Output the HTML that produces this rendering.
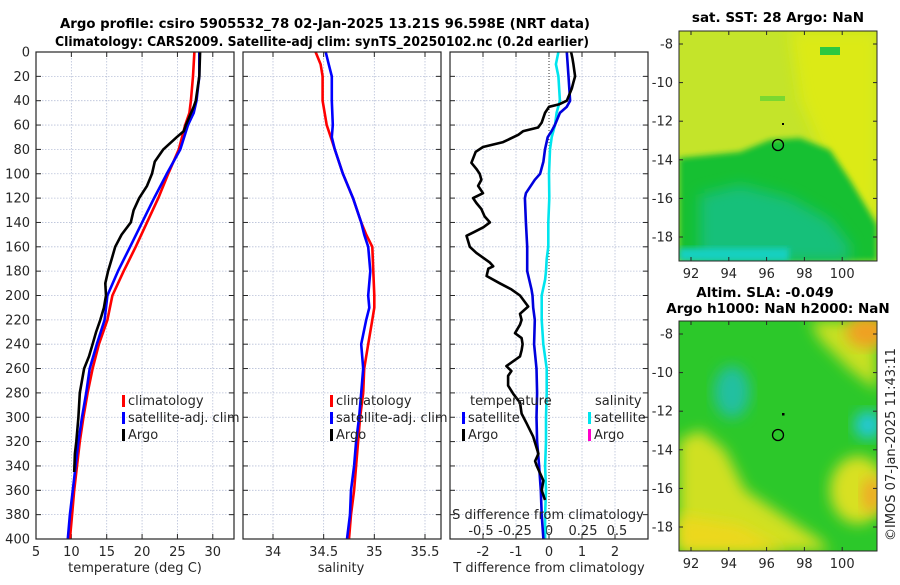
<!DOCTYPE html>
<html><head><meta charset="utf-8"><style>
body{margin:0;background:#fff;}
svg text{font-family:"DejaVu Sans","Liberation Sans",sans-serif;fill:#262626;}
.t{font-weight:bold;fill:#000;font-size:13.5px;}
.tk{font-size:13px;}
</style></head><body>
<svg id="fig" width="900" height="580" viewBox="0 0 900 580" xmlns="http://www.w3.org/2000/svg">
<defs>
<filter id="bl" x="-20%" y="-20%" width="140%" height="140%"><feGaussianBlur stdDeviation="7"/></filter>
<filter id="bl2" x="-20%" y="-20%" width="140%" height="140%"><feGaussianBlur stdDeviation="3"/></filter>
<clipPath id="c1"><rect x="679" y="31" width="198" height="230"/></clipPath>
<clipPath id="c2"><rect x="679" y="321" width="198" height="230"/></clipPath>
</defs>
<text class="t" x="60" y="28" textLength="530" lengthAdjust="spacingAndGlyphs">Argo profile: csiro 5905532_78 02-Jan-2025 13.21S 96.598E (NRT data)</text>
<text class="t" x="55" y="46" textLength="534" lengthAdjust="spacingAndGlyphs">Climatology: CARS2009. Satellite-adj clim: synTS_20250102.nc (0.2d earlier)</text>

<g id="panels"></g>

<!-- map 1 -->
<g clip-path="url(#c1)">
<rect x="679" y="31" width="198" height="230" fill="#c4e42a"/>
<path d="M790,31 L877,31 L877,230 L830,170 L800,100 Z" fill="#dcea18" filter="url(#bl)"/>
<path d="M679,158 L740,152 L770,140 L800,138 L830,150 L850,180 L877,225 L877,261 L679,261 Z" fill="#18c030" filter="url(#bl2)"/>
<path d="M700,195 L740,185 L790,198 L830,220 L850,245 L850,261 L700,261 Z" fill="#14c07a" filter="url(#bl)"/>
<rect x="679" y="248" width="110" height="13" fill="#18d0c0" filter="url(#bl2)"/>
<rect x="820" y="47" width="20" height="8" fill="#2cc840"/>
<rect x="760" y="96" width="25" height="5" fill="#7ad830"/>
</g>
<rect x="679" y="31" width="198" height="230" fill="none" stroke="#262626" stroke-width="1"/>
<circle cx="778" cy="145" r="5.5" fill="none" stroke="#000" stroke-width="1.3"/>
<rect x="782" y="123" width="2" height="2" fill="#000"/>
<text class="t" x="778" y="22" text-anchor="middle">sat. SST: 28 Argo: NaN</text>

<!-- map 2 -->
<g clip-path="url(#c2)">
<rect x="679" y="321" width="198" height="230" fill="#2cc82a"/>
<path d="M679,440 L700,430 L725,450 L745,490 L790,520 L820,540 L830,551 L679,551 Z" fill="#d0e024" filter="url(#bl)"/>
<path d="M679,515 L740,525 L790,551 L679,551 Z" fill="#ecd81c" filter="url(#bl)"/>
<path d="M810,321 L877,321 L877,390 L850,370 L820,340 Z" fill="#c8e020" filter="url(#bl)"/>
<ellipse cx="868" cy="332" rx="22" ry="16" fill="#f0a024" filter="url(#bl)"/>
<ellipse cx="858" cy="490" rx="28" ry="34" fill="#d8e020" filter="url(#bl)"/>
<ellipse cx="872" cy="495" rx="10" ry="18" fill="#f0a828" filter="url(#bl)"/>
<ellipse cx="868" cy="425" rx="14" ry="14" fill="#20c8d8" filter="url(#bl)"/>
<ellipse cx="732" cy="392" rx="18" ry="26" fill="#20c0a0" filter="url(#bl)"/>
</g>
<rect x="679" y="321" width="198" height="230" fill="none" stroke="#262626" stroke-width="1"/>
<circle cx="778" cy="435" r="5.5" fill="none" stroke="#000" stroke-width="1.3"/>
<rect x="782" y="413" width="2.5" height="2.5" fill="#000"/>
<text class="t" x="765" y="297" text-anchor="middle">Altim. SLA: -0.049</text>
<text class="t" x="778" y="313" text-anchor="middle">Argo h1000: NaN h2000: NaN</text>
<g id="mapticks"></g>
<text class="tk" transform="translate(895,541) rotate(-90)" font-size="13">©IMOS 07-Jan-2025 11:43:11</text>
</svg>
<script>
// ---- data ----
const depthT = [0,20,40,50,60,80,100,120,140,160,180,200,220,240,260,280,300,320,340,360,380,400];
const climT = [27.4,27.2,26.9,26.7,26.1,25.2,23.7,22.3,20.7,19.1,17.4,15.8,15.1,13.9,13.0,12.3,11.7,11.2,10.8,10.4,10.1,9.8];
const satT = [28.1,28.1,27.7,27.3,26.5,25.4,23.5,21.7,20.0,18.3,16.6,15.1,14.7,13.6,12.6,12.1,11.5,11.0,10.6,10.2,9.8,9.5];
const depthArgo = [0,20,40,45,60,65,70,80,90,100,110,120,130,140,150,160,170,180,190,200,210,220,230,240,250,260,280,300,320,330,345];
const argoT = [28.2,28.1,27.6,27.3,26.2,25.9,24.9,23.0,21.8,21.4,20.7,19.6,18.8,18.4,17.1,16.2,15.7,15.2,14.8,14.9,14.6,14.1,13.5,13.0,12.5,11.8,11.2,11.0,10.7,10.5,10.4];
const depthS = [0,10,20,40,60,70,80,100,120,140,150,160,180,200,210,220,240,260,280,300,320,340,360,380,400];
const climS = [34.42,34.47,34.49,34.49,34.53,34.57,34.61,34.69,34.79,34.87,34.92,34.98,34.99,35.0,35.0,34.98,34.94,34.90,34.89,34.86,34.84,34.82,34.80,34.77,34.75];
const satS = [34.52,34.55,34.58,34.58,34.59,34.58,34.61,34.69,34.79,34.87,34.90,34.94,34.96,34.94,34.95,34.92,34.87,34.89,34.87,34.85,34.82,34.80,34.77,34.76,34.73];
const depthArgoDiff = [0,5,10,20,25,30,40,43,45,50,58,62,65,68,74,78,82,91,96,100,105,110,116,120,124,129,135,140,144,148,151,160,165,173,176,178,184,190,195,200,209,215,220,224,231,235,240,245,250,258,262,266,274,281,288,297,305,316,330,336,340,346,352,360,368];
const argoTDiff = [0.67,0.71,0.74,0.79,0.74,0.69,0.54,0.3,0.0,-0.12,-0.22,-0.33,-0.78,-0.93,-1.39,-2.0,-2.22,-2.35,-2.2,-2.1,-2.05,-2.15,-2.0,-2.3,-2.2,-2.05,-1.95,-1.79,-1.99,-2.28,-2.5,-2.4,-2.2,-1.79,-1.69,-1.84,-1.89,-1.49,-1.14,-0.88,-0.63,-0.88,-0.83,-0.88,-1.03,-0.83,-0.8,-0.83,-0.88,-1.29,-1.14,-1.24,-1.24,-1.08,-0.88,-0.83,-0.68,-0.48,-0.32,-0.42,-0.37,-0.27,-0.17,-0.22,-0.12];
const depthSatDiff = [0,20,40,45,50,60,65,70,80,90,100,105,116,120,140,160,180,195,200,210,220,240,260,280,300,320,340,360,380,400];
const satTDiff = [0.54,0.59,0.64,0.54,0.33,0.18,0.08,-0.04,-0.12,-0.17,-0.27,-0.43,-0.7,-0.73,-0.7,-0.66,-0.66,-0.53,-0.5,-0.48,-0.43,-0.45,-0.38,-0.36,-0.38,-0.36,-0.30,-0.25,-0.22,-0.17];
const depthSDiff = [0,10,20,40,50,60,70,80,100,120,140,160,170,180,187,200,220,240,260,280,300,320,340,360,380,400];
const satSDiff = [0.069,0.051,0.069,0.08,0.056,0.044,0.02,0.007,0,0.002,-0.005,-0.005,-0.017,-0.022,-0.029,-0.054,-0.054,-0.042,-0.017,-0.017,-0.022,-0.022,-0.029,-0.022,-0.029,-0.029];
const depthTicks = [0,20,40,60,80,100,120,140,160,180,200,220,240,260,280,300,320,340,360,380,400];
const tTicks = [5,10,15,20,25,30];
const sTicks = [34,34.5,35,35.5];
const dTicks = [-2,-1,0,1,2];
const sdTicks = [-0.5,-0.25,0,0.25,0.5];
const sdTickLabels = ['-0.5','-0.25','0','0.25','0.5'];
const lonTicks = [92,94,96,98,100];
const latTicks = [-8,-10,-12,-14,-16,-18];

// ---- axes ----
const Y0=52, Y1=539;
const yD = d => Y0 + d*(Y1-Y0)/400;
const P = [
  {x0:36,x1:234,lo:5,hi:33},
  {x0:243,x1:441,lo:33.704,hi:35.658},
  {x0:450,x1:648,lo:-3,hi:3}
];
const sx = (p,v) => P[p].x0 + (v-P[p].lo)*(P[p].x1-P[p].x0)/(P[p].hi-P[p].lo);
const sdx = v => 549 + v*136;
const NS='http://www.w3.org/2000/svg';
const G=document.getElementById('panels');
function mk(tag,attrs,parent){const e=document.createElementNS(NS,tag);for(const k in attrs)e.setAttribute(k,attrs[k]);(parent||G).appendChild(e);return e;}
function txt(x,y,s,anchor,cls,name){const e=mk('text',{x:x,y:y,'text-anchor':anchor||'middle','class':cls||'tk'});e.textContent=s;


return e;}

P.forEach((p,i)=>{
  const ax=mk('rect',{x:p.x0,y:Y0,width:p.x1-p.x0,height:Y1-Y0,fill:'#fff'});
  
  
  depthTicks.forEach(d=>{
    mk('line',{x1:p.x0,x2:p.x1,y1:yD(d),y2:yD(d),stroke:'#b8c0d8','stroke-width':0.8,'stroke-dasharray':'1.5,1.5'});
    mk('line',{x1:p.x0,x2:p.x0+5,y1:yD(d),y2:yD(d),stroke:'#262626'});
    mk('line',{x1:p.x1-5,x2:p.x1,y1:yD(d),y2:yD(d),stroke:'#262626'});
  });
});
tTicks.forEach(v=>{const x=sx(0,v);mk('line',{x1:x,x2:x,y1:Y0,y2:Y1,stroke:'#b8c0d8','stroke-width':0.8,'stroke-dasharray':'1.5,1.5'});
 mk('line',{x1:x,x2:x,y1:Y1,y2:Y1-5,stroke:'#262626'});mk('line',{x1:x,x2:x,y1:Y0,y2:Y0+5,stroke:'#262626'});
 txt(x,556,String(v),'middle','tk','temp-tick-label');});
sTicks.forEach(v=>{const x=sx(1,v);mk('line',{x1:x,x2:x,y1:Y0,y2:Y1,stroke:'#b8c0d8','stroke-width':0.8,'stroke-dasharray':'1.5,1.5'});
 mk('line',{x1:x,x2:x,y1:Y1,y2:Y1-5,stroke:'#262626'});mk('line',{x1:x,x2:x,y1:Y0,y2:Y0+5,stroke:'#262626'});
 txt(x,556,String(v),'middle','tk','salinity-tick-label');});
dTicks.forEach(v=>{const x=sx(2,v);
 if(v!==0) mk('line',{x1:x,x2:x,y1:Y0,y2:Y1,stroke:'#b8c0d8','stroke-width':0.8,'stroke-dasharray':'1.5,1.5'});
 mk('line',{x1:x,x2:x,y1:Y1,y2:Y1-5,stroke:'#262626'});mk('line',{x1:x,x2:x,y1:Y0,y2:Y0+5,stroke:'#262626'});
 txt(x,556,String(v),'middle','tk','tdiff-tick-label');});
mk('line',{x1:sx(2,0),x2:sx(2,0),y1:Y0,y2:Y1,stroke:'#333','stroke-width':1,'stroke-dasharray':'1,2'});
sdTicks.forEach((v,i)=>{txt(sdx(v),535,sdTickLabels[i],'middle','tk','sdiff-tick-label');});
depthTicks.forEach(d=>txt(30,yD(d)+4.5,String(d),'end','tk','depth-tick-label'));

function line(xs,ds,fx,color,name){
  const pts=xs.map((v,i)=>fx(v).toFixed(1)+','+yD(ds[i]).toFixed(1)).join(' ');
  const e=mk('polyline',{points:pts,fill:'none',stroke:color,'stroke-width':2.6,'stroke-linejoin':'round'});
  
  
}
line(climT,depthT,v=>sx(0,v),'#ff0000','temp-climatology-line');
line(satT,depthT,v=>sx(0,v),'#0000ff','temp-satellite-line');
line(argoT,depthArgo,v=>sx(0,v),'#000000','temp-argo-line');
line(climS,depthS,v=>sx(1,v),'#ff0000','salinity-climatology-line');
line(satS,depthS,v=>sx(1,v),'#0000ff','salinity-satellite-line');
line(satSDiff,depthSDiff,sdx,'#00e5ee','sdiff-satellite-line');
line(satTDiff,depthSatDiff,v=>sx(2,v),'#0000dd','tdiff-satellite-line');
line(argoTDiff,depthArgoDiff,v=>sx(2,v),'#000000','tdiff-argo-line');

P.forEach(p=>mk('rect',{x:p.x0,y:Y0,width:p.x1-p.x0,height:Y1-Y0,fill:'none',stroke:'#262626','stroke-width':1.2}));

function leg(x,y,color,label,name){
  mk('rect',{x:x,y:y-10,width:3,height:12,fill:color});
  txt(x+6,y,label,'start','tk',name).setAttribute('font-size','14');
}
leg(122,405,'#ff0000','climatology','legend-climatology');
leg(122,422,'#0000ff','satellite-adj. clim','legend-satellite-adj');
leg(122,439,'#000000','Argo','legend-argo');
leg(330,405,'#ff0000','climatology','legend-climatology-2');
leg(330,422,'#0000ff','satellite-adj. clim','legend-satellite-adj-2');
leg(330,439,'#000000','Argo','legend-argo-2');
txt(470,405,'temperature','start','tk','legend-temperature-heading').setAttribute('font-size','14');
leg(462,422,'#0000ff','satellite','legend-t-satellite');
leg(462,439,'#000000','Argo','legend-t-argo');
txt(595,405,'salinity','start','tk','legend-salinity-heading').setAttribute('font-size','14');
leg(588,422,'#00e5ee','satellite','legend-s-satellite');
leg(588,439,'#ff00cc','Argo','legend-s-argo');

txt(135,572,'temperature (deg C)','middle','tk','temp-axis-title').setAttribute('font-size','14');
txt(341,572,'salinity','middle','tk','salinity-axis-title').setAttribute('font-size','14');
txt(549,572,'T difference from climatology','middle','tk','tdiff-axis-title').setAttribute('font-size','14');
txt(548,519,'S difference from climatology','middle','tk','sdiff-axis-title').setAttribute('font-size','14');

const MG=document.getElementById('mapticks');
[[31,261],[321,551]].forEach((m,mi)=>{
  lonTicks.forEach(v=>{const x=691+(v-92)*18.9;
    mk('line',{x1:x,x2:x,y1:m[1],y2:m[1]-4,stroke:'#262626'},MG);mk('line',{x1:x,x2:x,y1:m[0],y2:m[0]+4,stroke:'#262626'},MG);
    const t=mk('text',{x:x,y:m[1]+17,'text-anchor':'middle','class':'tk'},MG);t.textContent=String(v);
    
    
  });
  latTicks.forEach(v=>{const y=m[0]+13+(-8-v)*19.3;
    mk('line',{x1:679,x2:683,y1:y,y2:y,stroke:'#262626'},MG);mk('line',{x1:873,x2:877,y1:y,y2:y,stroke:'#262626'},MG);
    const t=mk('text',{x:673,y:y+4.5,'text-anchor':'end','class':'tk'},MG);t.textContent=String(v);
    
    
  });
});
</script>
</body></html>
